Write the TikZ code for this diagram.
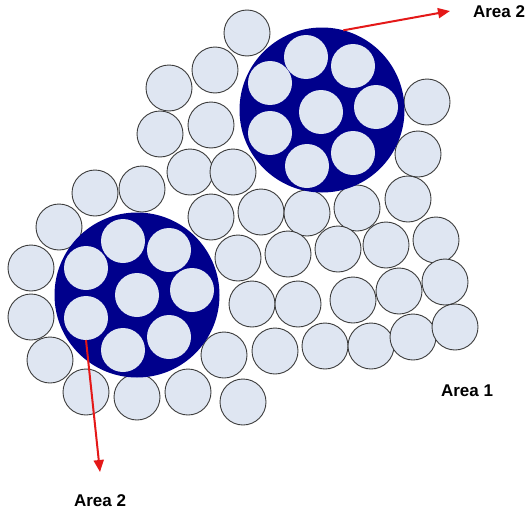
\documentclass[tikz,border=0pt]{standalone}
\usepackage{fontspec}
\setmainfont{Liberation Sans}
\usetikzlibrary{arrows.meta}
\definecolor{wirefill}{RGB}{223,230,242}
\definecolor{wireline}{RGB}{60,60,60}
\definecolor{bundleblue}{RGB}{0,0,140}
\definecolor{arrowred}{RGB}{228,24,24}
\begin{document}
\begin{tikzpicture}[x=1pt,y=-1pt,
  wire/.style={circle,draw=wireline,fill=wirefill,line width=0.9pt,minimum size=46pt,inner sep=0pt,outer sep=0pt},
  innerwire/.style={circle,fill=wirefill,minimum size=44pt,inner sep=0pt,outer sep=0pt},
  bundle/.style={circle,fill=bundleblue,minimum size=165pt,inner sep=0pt,outer sep=0pt},
  lbl/.style={font=\fontsize{17}{20}\selectfont\bfseries,inner sep=0pt},
  redarrow/.style={draw=arrowred,line width=2pt,-{Triangle[length=12pt,width=10pt]}}]
\useasboundingbox (0,0) rectangle (527,514);
% outer wires (Area 1)
\foreach \x/\y [count=\i] in {
  247/33, 215/70, 169/88, 211/125, 160/134, 190/172, 233/172, 95/193, 142/189,
  211/217, 261/212, 307/213, 357/208, 408/199, 418/154, 427/102,
  59/227, 31/268, 31/317, 50/360, 86/392, 137/397, 188/392, 224/355, 243/402,
  238/258, 288/254, 338/249, 386/245, 436/240,
  252/304, 298/304, 353/300, 399/291, 445/282,
  275/351, 325/346, 371/346, 413/337, 455/327}
  \node[wire] (w\i) at (\x,\y) {};
% bundles (Area 2)
\node[bundle] (bTR) at (322,110) {};
\node[bundle] (bBL) at (137,295) {};
\foreach \x/\y [count=\i] in {306/57, 353/66, 270/83, 321/112, 376/107, 270/133, 353/153, 307/166}
  \node[innerwire] (a\i) at (\x,\y) {};
\foreach \x/\y [count=\i] in {123/241, 169/250, 86/268, 137/295, 192/290, 86/318, 123/350, 169/337}
  \node[innerwire] (c\i) at (\x,\y) {};
% labels
\node[lbl] (areaTwoTop) at (499,12) {Area 2};
\node[lbl] (areaOne) at (467,391) {Area 1};
\node[lbl] (areaTwoBot) at (100,501) {Area 2};
% arrows
\coordinate (tipTop) at (450,11);
\coordinate (tipBot) at (100,472);
\draw[redarrow] (bTR.75) -- (tipTop);
\draw[redarrow] (c6.south) -- (tipBot);
\end{tikzpicture}
\end{document}
